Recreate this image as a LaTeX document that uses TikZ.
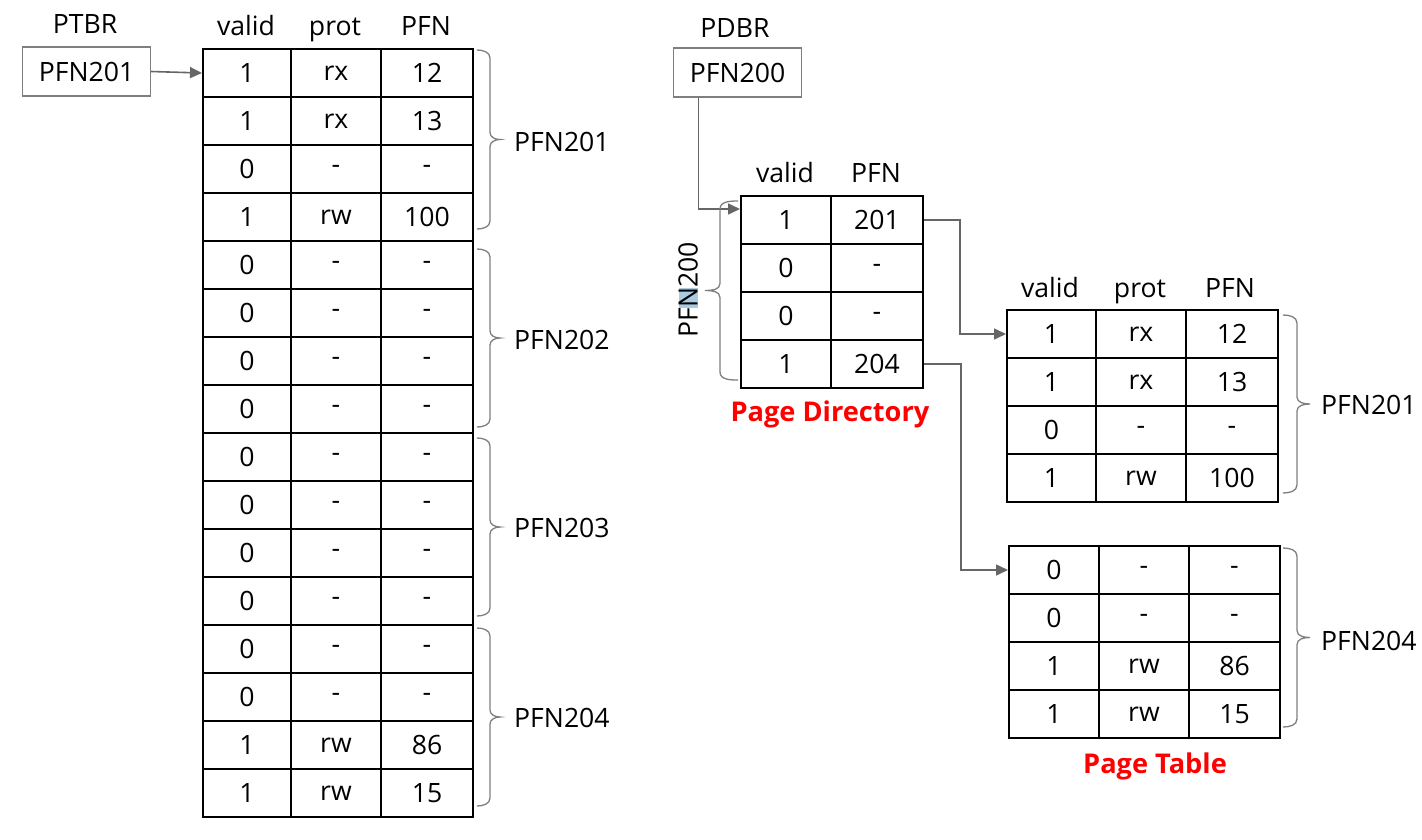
\documentclass[tikz,border=0pt]{standalone}
\usepackage{fontspec}
\setmainfont{Open Sans}
\usetikzlibrary{arrows.meta}
\definecolor{conngray}{HTML}{666666}
\definecolor{bracegray}{HTML}{7F7F7F}
\definecolor{hlblue}{HTML}{A9CCE3}
\newcommand\tfont{\fontsize{26.6}{30}\selectfont}
\newcommand\bfnt{\fontsize{27.2}{31}\selectfont\bfseries}
\begin{document}
\begin{tikzpicture}[x=1pt,y=-1pt,
  every node/.style={font=\tfont, inner sep=0pt},
  cell/.style={draw=black, line width=2pt, minimum width=#1, minimum height=48pt, anchor=north west},
  hdr/.style={anchor=base},
  reg/.style={draw=bracegray, line width=1.3pt, minimum width=128pt, minimum height=49pt},
  conn/.style={draw=conngray, line width=1.6pt, -{Triangle[length=12pt,width=11pt]}},
  brc/.style={draw=bracegray, line width=1.3pt},
  redlbl/.style={anchor=base, text=red, font=\bfnt}
]
\useasboundingbox (0,0) rectangle (1422,839);

% ---------- brace helpers ----------
\newcommand\rbr[5]{% x0, xv, xtip, ytop, ybot
  \pgfmathsetmacro\ym{(#4+#5)/2}
  \draw[brc] (#1,#4) to[out=0,in=90] (#2,#4+8) -- (#2,\ym-7) to[out=-90,in=180] (#3,\ym)
             to[out=180,in=90] (#2,\ym+7) -- (#2,#5-8) to[out=-90,in=0] (#1,#5);}
\newcommand\lbr[5]{% x0, xv, xtip, ytop, ybot
  \pgfmathsetmacro\ym{(#4+#5)/2}
  \draw[brc] (#1,#4) to[out=180,in=90] (#2,#4+8) -- (#2,\ym-7) to[out=-90,in=0] (#3,\ym)
             to[out=0,in=90] (#2,\ym+7) -- (#2,#5-8) to[out=-90,in=180] (#1,#5);}

% ---------- left: linear page table ----------
\node[hdr] (ptbrlbl) at (85,33) {PTBR};
\node[reg] (ptbr) at (86.5,71.5) {PFN201};
\node[hdr] (hLa) at (246,35) {valid};
\node[hdr] (hLb) at (335,35) {prot};
\node[hdr] (hLc) at (426,35) {PFN};
\foreach \v/\p/\f [count=\i from 0] in
  {1/rx/12, 1/rx/13, 0/-/-, 1/rw/100,
   0/-/-, 0/-/-, 0/-/-, 0/-/-,
   0/-/-, 0/-/-, 0/-/-, 0/-/-,
   0/-/-, 0/-/-, 1/rw/86, 1/rw/15}{
  \node[cell=88pt] (La\i) at (202,48+48*\i) {\v};
  \node[cell=90pt] (Lb\i) at (290,48+48*\i) {\p};
  \node[cell=92pt] (Lc\i) at (380,48+48*\i) {\f};
}
\draw[conn] (ptbr.east) -- (La0.west);
\rbr{477}{490}{500}{50}{229}
\rbr{477}{490}{500}{249}{427}
\rbr{477}{490}{500}{438}{616}
\rbr{477}{490}{500}{628}{806}
\node[anchor=west] (g1) at (514,142) {PFN201};
\node[anchor=west] (g2) at (514,340) {PFN202};
\node[anchor=west] (g3) at (514,528) {PFN203};
\node[anchor=west] (g4) at (514,718) {PFN204};

% ---------- page directory ----------
\node[hdr] (pdbrlbl) at (735,37) {PDBR};
\node[reg] (pdbr) at (737.5,72.5) {PFN200};
\node[hdr] (hPa) at (785,182) {valid};
\node[hdr] (hPb) at (876,182) {PFN};
\foreach \v/\f [count=\i from 0] in {1/201, 0/-, 0/-, 1/204}{
  \node[cell=90pt] (PDa\i) at (740,195+48*\i) {\v};
  \node[cell=92pt] (PDb\i) at (830,195+48*\i) {\f};
}
\draw[conn] ([xshift=-39pt]pdbr.south) |- ([yshift=11pt]PDa0.west);
\lbr{738}{720}{705}{201}{380}
\node[rotate=90] (pd200) at (688,290) {PF{\fboxsep=0pt\colorbox{hlblue}{N}}200};
\node[redlbl] (pdname) at (830,421) {Page Directory};

% ---------- page table PFN201 ----------
\node[hdr] (hAa) at (1050,297) {valid};
\node[hdr] (hAb) at (1140,297) {prot};
\node[hdr] (hAc) at (1230,297) {PFN};
\foreach \v/\p/\f [count=\i from 0] in {1/rx/12, 1/rx/13, 0/-/-, 1/rw/100}{
  \node[cell=89pt] (RAa\i) at (1006,309+48*\i) {\v};
  \node[cell=90pt] (RAb\i) at (1095,309+48*\i) {\p};
  \node[cell=92pt] (RAc\i) at (1185,309+48*\i) {\f};
}
\rbr{1283}{1297}{1310}{315}{493}
\node[anchor=west] (r201) at (1321,405) {PFN201};

% ---------- page table PFN204 ----------
\foreach \v/\p/\f [count=\i from 0] in {0/-/-, 0/-/-, 1/rw/86, 1/rw/15}{
  \node[cell=90pt] (RBa\i) at (1008,545+48*\i) {\v};
  \node[cell=90pt] (RBb\i) at (1098,545+48*\i) {\p};
  \node[cell=91pt] (RBc\i) at (1188,545+48*\i) {\f};
}
\rbr{1283}{1297}{1310}{548}{727}
\node[anchor=west] (r204) at (1321,641) {PFN204};
\node[redlbl] (ptname) at (1155,773) {Page Table};

% ---------- directory connectors ----------
\draw[conn] (PDb0.east) -- ++(36,0) |- (RAa0.west);
\draw[conn] (PDb3.east) -- ++(37,0) |- (RBa0.west);
\end{tikzpicture}
\end{document}
